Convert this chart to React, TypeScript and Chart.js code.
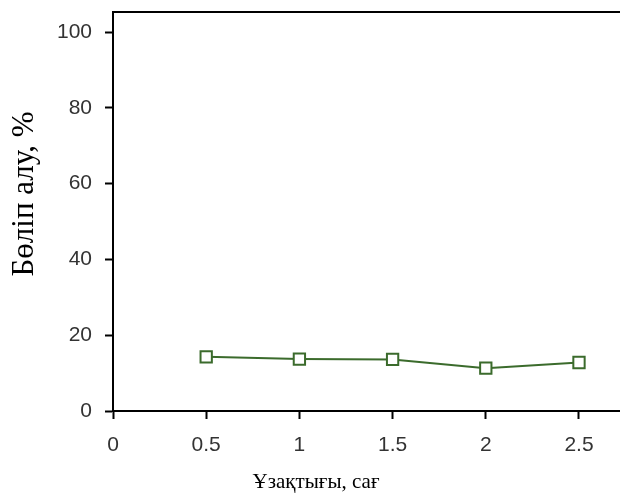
import React, { useEffect, useRef } from 'react';
import { Chart, registerables } from 'chart.js';

Chart.register(...registerables);

const durations = [0.5, 1, 1.5, 2, 2.5];
const separation = [14.3, 13.7, 13.6, 11.3, 12.8];
const xTickValues = [0, 0.5, 1, 1.5, 2, 2.5];
const yTickValues = [0, 20, 40, 60, 80, 100];
const xTitle = 'Ұзақтығы, сағ';
const yTitle = 'Бөліп алу, %';

const lineColor = '#3B6B2C';

const titlePlugin = {
  id: 'customTitles',
  afterDraw(chart: any) {
    const { ctx, chartArea } = chart;
    ctx.save();
    // top frame line
    ctx.strokeStyle = '#000';
    ctx.lineWidth = 2;
    ctx.beginPath();
    ctx.moveTo(chartArea.left, chartArea.top);
    ctx.lineTo(chartArea.right, chartArea.top);
    ctx.stroke();
    ctx.fillStyle = '#000';
    // x title
    ctx.font = '21px "Liberation Serif", "Times New Roman", serif';
    ctx.textAlign = 'center';
    ctx.textBaseline = 'alphabetic';
    ctx.fillText(xTitle, chartArea.left + 203, chartArea.bottom + 77);
    // y title
    ctx.font = '31px "Liberation Serif", "Times New Roman", serif';
    ctx.translate(chartArea.left - 80, chartArea.top + 182);
    ctx.rotate(-Math.PI / 2);
    ctx.fillText(yTitle, 0, 0);
    ctx.restore();
  },
};

const zeroPad = (scale: any) => {
  scale.paddingTop = 0;
  scale.paddingBottom = 0;
  scale.paddingLeft = 0;
  scale.paddingRight = 0;
};

export default function App() {
  const ref = useRef<HTMLCanvasElement | null>(null);

  useEffect(() => {
    document.body.style.margin = '0';
    const canvas = ref.current;
    if (!canvas) return;
    const tickFont = { family: '"Liberation Sans", Arial, sans-serif', size: 21 };
    const chart = new Chart(canvas, {
      type: 'line',
      data: {
        datasets: [
          {
            data: durations.map((d, i) => ({ x: d, y: separation[i] })),
            borderColor: lineColor,
            backgroundColor: '#ffffff',
            borderWidth: 2,
            pointStyle: 'rect',
            pointRadius: 8,
            pointHoverRadius: 8,
            pointBorderWidth: 2,
            pointBackgroundColor: '#ffffff',
            pointBorderColor: lineColor,
            tension: 0,
          },
        ],
      },
      options: {
        responsive: false,
        animation: false,
        events: [],
        layout: { autoPadding: false, padding: { top: 12, right: 0, left: 0, bottom: 0 } },
        plugins: {
          legend: { display: false },
          tooltip: { enabled: false },
        },
        scales: {
          x: {
            type: 'linear',
            min: 0,
            max: 2.72,
            afterBuildTicks: (scale: any) => {
              scale.ticks = xTickValues.map((v) => ({ value: v }));
            },
            afterFit: (scale: any) => {
              scale.height = 82;
              zeroPad(scale);
            },
            ticks: {
              font: tickFont,
              color: '#333333',
              padding: 14,
              maxRotation: 0,
              callback: (v: any) => String(v),
            },
            grid: {
              drawOnChartArea: false,
              drawTicks: true,
              tickLength: 8,
              tickWidth: 2,
              tickColor: '#000',
            },
            border: { display: true, color: '#000', width: 2 },
          },
          y: {
            type: 'linear',
            min: 0,
            max: 105.3,
            afterBuildTicks: (scale: any) => {
              scale.ticks = yTickValues.map((v) => ({ value: v }));
            },
            afterFit: (scale: any) => {
              scale.width = 113;
              zeroPad(scale);
            },
            ticks: {
              font: tickFont,
              color: '#333333',
              padding: 13,
              callback: (v: any) => String(v),
            },
            grid: {
              drawOnChartArea: false,
              drawTicks: true,
              tickLength: 8,
              tickWidth: 2,
              tickColor: '#000',
            },
            border: { display: true, color: '#000', width: 2 },
          },
        },
      },
      plugins: [titlePlugin],
    });
    return () => chart.destroy();
  }, []);

  return (
    <div style={{ position: 'absolute', left: 0, top: 0, width: 620, height: 493, background: '#fff' }}>
      <canvas ref={ref} width={620} height={493} />
    </div>
  );
}
